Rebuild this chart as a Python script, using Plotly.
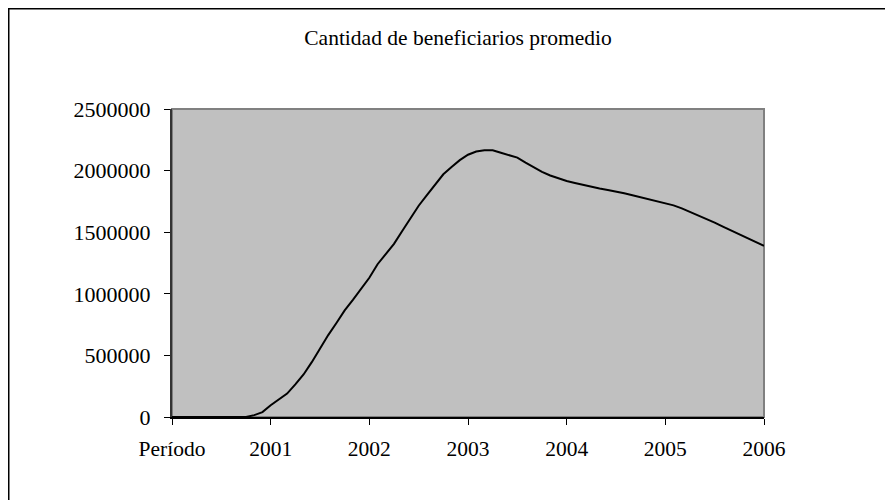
import plotly.graph_objects as go

# Monthly periods: index 0 = start ("Período"), every 12 months a year label
period_index = list(range(73))
beneficiarios = [
    0, 0, 0, 0, 0, 0, 0, 0, 0, 0,
    15000, 40000,
    95000, 140000, 190000, 265000, 345000, 445000,
    560000, 665000, 763000, 865000, 950000, 1040000,
    1130000, 1240000, 1325000, 1405000, 1510000, 1615000,
    1715000, 1800000, 1885000, 1970000, 2030000, 2085000,
    2129000, 2155000, 2165000, 2165000, 2145000, 2125000,
    2105000, 2065000, 2025000, 1990000, 1960000, 1935000,
    1915000, 1900000, 1885000, 1866000, 1855000, 1843000,
    1831000, 1816000, 1800000, 1784000, 1770000, 1755000,
    1740000, 1718000, 1693000, 1665000, 1636000, 1607000,
    1578000, 1546000, 1515000, 1484000, 1453000, 1422000,
    1390000,
]
x_tick_vals = [0, 12, 24, 36, 48, 60, 72]
x_tick_text = ["Período", "2001", "2002", "2003", "2004", "2005", "2006"]
y_tick_vals = [0, 500000, 1000000, 1500000, 2000000, 2500000]
y_tick_text = ["0", "500000", "1000000", "1500000", "2000000", "2500000"]
title_text = "Cantidad de beneficiarios promedio"

# The page body adds an 8px margin, so figure coordinates are shifted by -8
W, H = 885, 492
L, R, T, B = 164, 756, 101, 409
FONT = "Liberation Serif, Times New Roman, serif"

fig = go.Figure()
fig.add_trace(go.Scatter(
    x=period_index, y=beneficiarios, mode="lines",
    line=dict(color="black", width=2), hoverinfo="skip", showlegend=False,
))

pw, ph = R - L, B - T
def px_to_paper_x(px):
    return (px - L) / pw
def px_to_paper_y(py):
    return (B - py) / ph

fig.update_layout(
    width=W, height=H, autosize=False,
    margin=dict(l=L, r=W - R, t=T, b=H - B, pad=0),
    paper_bgcolor="white", plot_bgcolor="#C0C0C0",
    font=dict(family=FONT, size=21, color="black"),
    title=dict(text=title_text, x=450 / W, xanchor="center",
               y=1 - 29 / H, yanchor="middle",
               font=dict(family=FONT, size=21.5, color="black")),
    showlegend=False,
    shapes=[
        # plot area border (gray)
        dict(type="rect", xref="paper", yref="paper", x0=0, y0=0, x1=1, y1=1,
             line=dict(color="#808080", width=2), layer="below"),
        # outer chart frame (extends beyond the picture)
        dict(type="rect", xref="paper", yref="paper",
             x0=px_to_paper_x(0.75), y0=px_to_paper_y(560),
             x1=px_to_paper_x(960), y1=px_to_paper_y(0.75),
             line=dict(color="black", width=1.5), layer="above"),
    ],
)
fig.update_xaxes(
    range=[0, 72], tickmode="array", tickvals=x_tick_vals, ticktext=x_tick_text,
    ticks="outside", ticklen=6, tickwidth=1, tickcolor="black",
    showline=True, linecolor="black", linewidth=1.5,
    showgrid=False, zeroline=False, ticklabelstandoff=5,
    tickfont=dict(family=FONT, size=21.5, color="black"),
)
fig.update_yaxes(
    range=[0, 2500000], tickmode="array", tickvals=y_tick_vals, ticktext=y_tick_text,
    ticks="outside", ticklen=6, tickwidth=1, tickcolor="black",
    showline=True, linecolor="#333333", linewidth=2,
    showgrid=False, zeroline=False, ticklabelstandoff=9,
    tickfont=dict(family=FONT, size=22, color="black"),
)

fig.write_html("out.html")
